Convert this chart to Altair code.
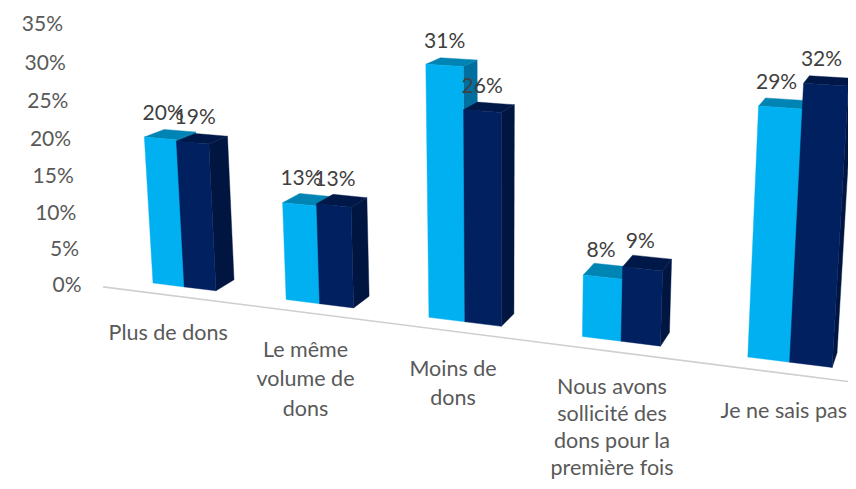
import altair as alt

CATEGORIES = ["Plus de dons", "Le même\nvolume de\ndons", "Moins de\ndons",
              "Nous avons\nsollicité des\ndons pour la\npremière fois", "Je ne sais pas"]
SERIES_A = [19.6, 12.7, 31.3, 7.6, 29.0]
SERIES_B = [19.4, 13.0, 26.2, 9.1, 31.8]
LABELS_A = ["20%", "13%", "31%", "8%", "29%"]
LABELS_B = ["19%", "13%", "26%", "9%", "32%"]
TICKS = [0, 5, 10, 15, 20, 25, 30, 35]
COLORS_A = {"front": "#00B0F0", "top": "#0084B4", "side": "#006F9F"}
COLORS_B = {"front": "#002060", "top": "#001848", "side": "#001540"}
FLOOR = "#CFCFCF"
AXIS_TEXT = "#595959"
VALUE_TEXT = "#404040"
FONT = "Lato"
BAR = 0.2408


def project(u, v, z):
    """3D chart position (category, value, depth) to page position."""
    w = 1 - 0.0337 * u - 0.00124 * v + 0.0225 * z
    return ((153 + 123.5 * u - 0.62 * v + 23 * z) / w,
            (283 + 6.47 * u - 7.62 * v - 4.5 * z) / w)


poly, values, cats = [], [], []
n_face = 0


def add_quad(pts, color):
    global n_face
    for s, p in enumerate(pts + pts[:1]):
        x, y = project(*p)
        poly.append({"face": f"f{n_face:03d}", "seq": s, "px": x, "py": y, "col": color})
    n_face += 1


for i, cat in enumerate(CATEGORIES):
    for j, (vals, labs, cols) in enumerate([(SERIES_A, LABELS_A, COLORS_A), (SERIES_B, LABELS_B, COLORS_B)]):
        u0 = i + j * BAR
        u1 = u0 + BAR
        v = vals[i]
        add_quad([(u1, 0, 0), (u1, 0, 1), (u1, v, 1), (u1, v, 0)], cols["side"])
        add_quad([(u0, v, 0), (u1, v, 0), (u1, v, 1), (u0, v, 1)], cols["top"])
        add_quad([(u0, 0, 0), (u1, 0, 0), (u1, v, 0), (u0, v, 0)], cols["front"])
        x, y = project((u0 + u1) / 2, v, 0.5)
        values.append({"px": x, "py": y, "t": labs[i]})
    x, y = project(i + BAR, 0, -0.78)
    cats.append({"px": x, "py": y, "t": cat})

ticks = []
for t in TICKS:
    x, y = project(-0.55, t, 0)
    ticks.append({"px": x, "py": y, "t": f"{t}%"})

floor = []
for s, u in enumerate([-0.271, 4.633]):
    x, y = project(u, 0, -0.75)
    floor.append({"px": x, "py": y, "seq": s})

W, H = 840, 473
X = alt.X("px:Q", scale=alt.Scale(domain=[8, 8 + W], zero=False, nice=False), axis=None)
Y = alt.Y("py:Q", scale=alt.Scale(domain=[8 + H, 8], zero=False, nice=False), axis=None)

floor_l = alt.Chart(alt.Data(values=floor)).mark_line(color=FLOOR, strokeWidth=1.6).encode(x=X, y=Y, order="seq:Q")
bars = alt.Chart(alt.Data(values=poly)).mark_line(strokeWidth=0.4, strokeJoin="round").encode(
    x=X, y=Y, order="seq:Q", detail="face:N",
    fill=alt.Fill("col:N", scale=None), stroke=alt.Stroke("col:N", scale=None))
val_t = alt.Chart(alt.Data(values=values)).mark_text(
    font=FONT, fontSize=21, color=VALUE_TEXT, dx=-7, dy=-20.5).encode(x=X, y=Y, text="t:N")
tick_t = alt.Chart(alt.Data(values=ticks)).mark_text(
    font=FONT, fontSize=21, color=AXIS_TEXT, align="right", dx=-2, dy=12).encode(x=X, y=Y, text="t:N")
cat_t = alt.Chart(alt.Data(values=[c for k, c in enumerate(cats) if k != 3])).mark_text(
    font=FONT, fontSize=21.5, color=AXIS_TEXT, baseline="top", dx=-1, dy=27, lineBreak="\n", lineHeight=29.3).encode(
    x=X, y=Y, text="t:N")
cat4_t = alt.Chart(alt.Data(values=[cats[3]])).mark_text(
    font=FONT, fontSize=21.5, color=AXIS_TEXT, baseline="top", dx=-1, dy=25, lineBreak="\n", lineHeight=27).encode(
    x=X, y=Y, text="t:N")

chart = alt.layer(floor_l, bars, val_t, tick_t, cat_t, cat4_t).properties(
    width=W, height=H, padding=0, autosize=alt.AutoSizeParams(type="none")
).configure_view(stroke=None)

chart.save("out.html", embed_options={"renderer": "svg", "actions": False})
